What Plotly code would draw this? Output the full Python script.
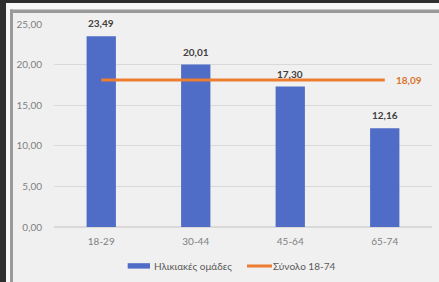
import plotly.graph_objects as go

categories = ["18-29", "30-44", "45-64", "65-74"]
values = [23.49, 20.01, 17.30, 12.16]
total_value = 18.09
total_series = [total_value] * len(categories)
bar_name = "Ηλικιακές ομάδες"
line_name = "Σύνολο 18-74"
y_ticks = [0, 5, 10, 15, 20, 25]

W, H = 439, 282
L, R, T, B = 54, 7, 24, 55
PW, PH = W - L - R, H - T - B

def px(x):
    return (x - L) / PW

def py(y):
    return (H - B - y) / PH

BLUE = "#4F6CC6"
ORANGE = "#ED7D31"
FONT = "Lato"
DARK = "#2E2E2E"

fig = go.Figure()
fig.add_trace(go.Bar(
    x=categories, y=values, name=bar_name,
    marker=dict(color=BLUE, line=dict(width=0)),
    width=0.31, showlegend=False,
))
fig.add_trace(go.Scatter(
    x=categories, y=total_series, name=line_name,
    mode="lines",
    line=dict(color=ORANGE, width=3),
    showlegend=False, cliponaxis=False,
))

annotations = []
for c, v in zip(categories, values):
    annotations.append(dict(
        x=c, y=v, xref="x", yref="y",
        text=f"<b>{v:.2f}</b>".replace(".", ","),
        showarrow=False, yanchor="bottom", yshift=5,
        font=dict(family=FONT, size=10, color="#404040"),
    ))
annotations.append(dict(
    x=categories[-1], y=total_series[-1], xref="x", yref="y",
    text=f"<b>{total_value:.2f}</b>".replace(".", ","),
    showarrow=False, xanchor="left", yanchor="middle", xshift=9,
    font=dict(family=FONT, size=10, color="#D9732C"),
))

# custom legend
annotations.append(dict(x=px(152), y=py(266), xref="paper", yref="paper",
                        text=bar_name, showarrow=False, xanchor="left", yanchor="middle",
                        font=dict(family=FONT, size=10, color="#595959")))
annotations.append(dict(x=px(271), y=py(266), xref="paper", yref="paper",
                        text=line_name, showarrow=False, xanchor="left", yanchor="middle",
                        font=dict(family=FONT, size=10, color="#595959")))

shapes = [
    # dark outer frame (top and left)
    dict(type="rect", xref="paper", yref="paper", x0=px(-5), x1=px(445), y0=py(3), y1=py(-5),
         fillcolor=DARK, line=dict(width=0), layer="below"),
    dict(type="rect", xref="paper", yref="paper", x0=px(-5), x1=px(6), y0=py(290), y1=py(-5),
         fillcolor=DARK, line=dict(width=0), layer="below"),
    # light band
    dict(type="rect", xref="paper", yref="paper", x0=px(6), x1=px(445), y0=py(3), y1=py(9.5),
         fillcolor="#F7F7F7", line=dict(width=0), layer="below"),
    dict(type="rect", xref="paper", yref="paper", x0=px(6), x1=px(10), y0=py(3), y1=py(290),
         fillcolor="#F7F7F7", line=dict(width=0), layer="below"),
    # gray border lines
    dict(type="rect", xref="paper", yref="paper", x0=px(10), x1=px(445), y0=py(9.5), y1=py(13),
         fillcolor="#9A9A9A", line=dict(width=0), layer="below"),
    dict(type="rect", xref="paper", yref="paper", x0=px(10), x1=px(13), y0=py(9.5), y1=py(290),
         fillcolor="#9A9A9A", line=dict(width=0), layer="below"),
    # legend markers
    dict(type="rect", xref="paper", yref="paper", x0=px(127.7), x1=px(150), y0=py(263.2), y1=py(268.6),
         fillcolor=BLUE, line=dict(width=0)),
    dict(type="line", xref="paper", yref="paper", x0=px(247), x1=px(272), y0=py(266), y1=py(266),
         line=dict(color=ORANGE, width=3)),
]

fig.update_layout(
    width=W, height=H,
    margin=dict(l=L, r=R, t=T, b=B, pad=0),
    paper_bgcolor="#F0F0F0", plot_bgcolor="#F0F0F0",
    separators=",.",
    showlegend=False,
    bargap=0.69,
    font=dict(family=FONT, size=10, color="#7F7F7F"),
    annotations=annotations, shapes=shapes,
    xaxis=dict(showgrid=False, showline=True, linecolor="#D9D9D9", linewidth=1,
               ticks="outside", ticklen=5, tickcolor="rgba(0,0,0,0)",
               tickfont=dict(family=FONT, size=10, color="#7F7F7F"), fixedrange=True),
    yaxis=dict(range=[0, 25], tickvals=y_ticks, tickformat=".2f",
               showgrid=True, gridcolor="#D9D9D9", gridwidth=1,
               zeroline=True, zerolinecolor="#D9D9D9", showline=False,
               ticks="outside", ticklen=9, tickcolor="rgba(0,0,0,0)",
               tickfont=dict(family=FONT, size=10, color="#7F7F7F"), fixedrange=True),
)

fig.write_html("out.html", config={"displayModeBar": False},
               post_script=("document.body.style.margin='0';"
                            "document.body.style.overflow='hidden';"
                            "document.documentElement.style.overflow='hidden';"
                            "document.body.style.background='#F0F0F0';"))
